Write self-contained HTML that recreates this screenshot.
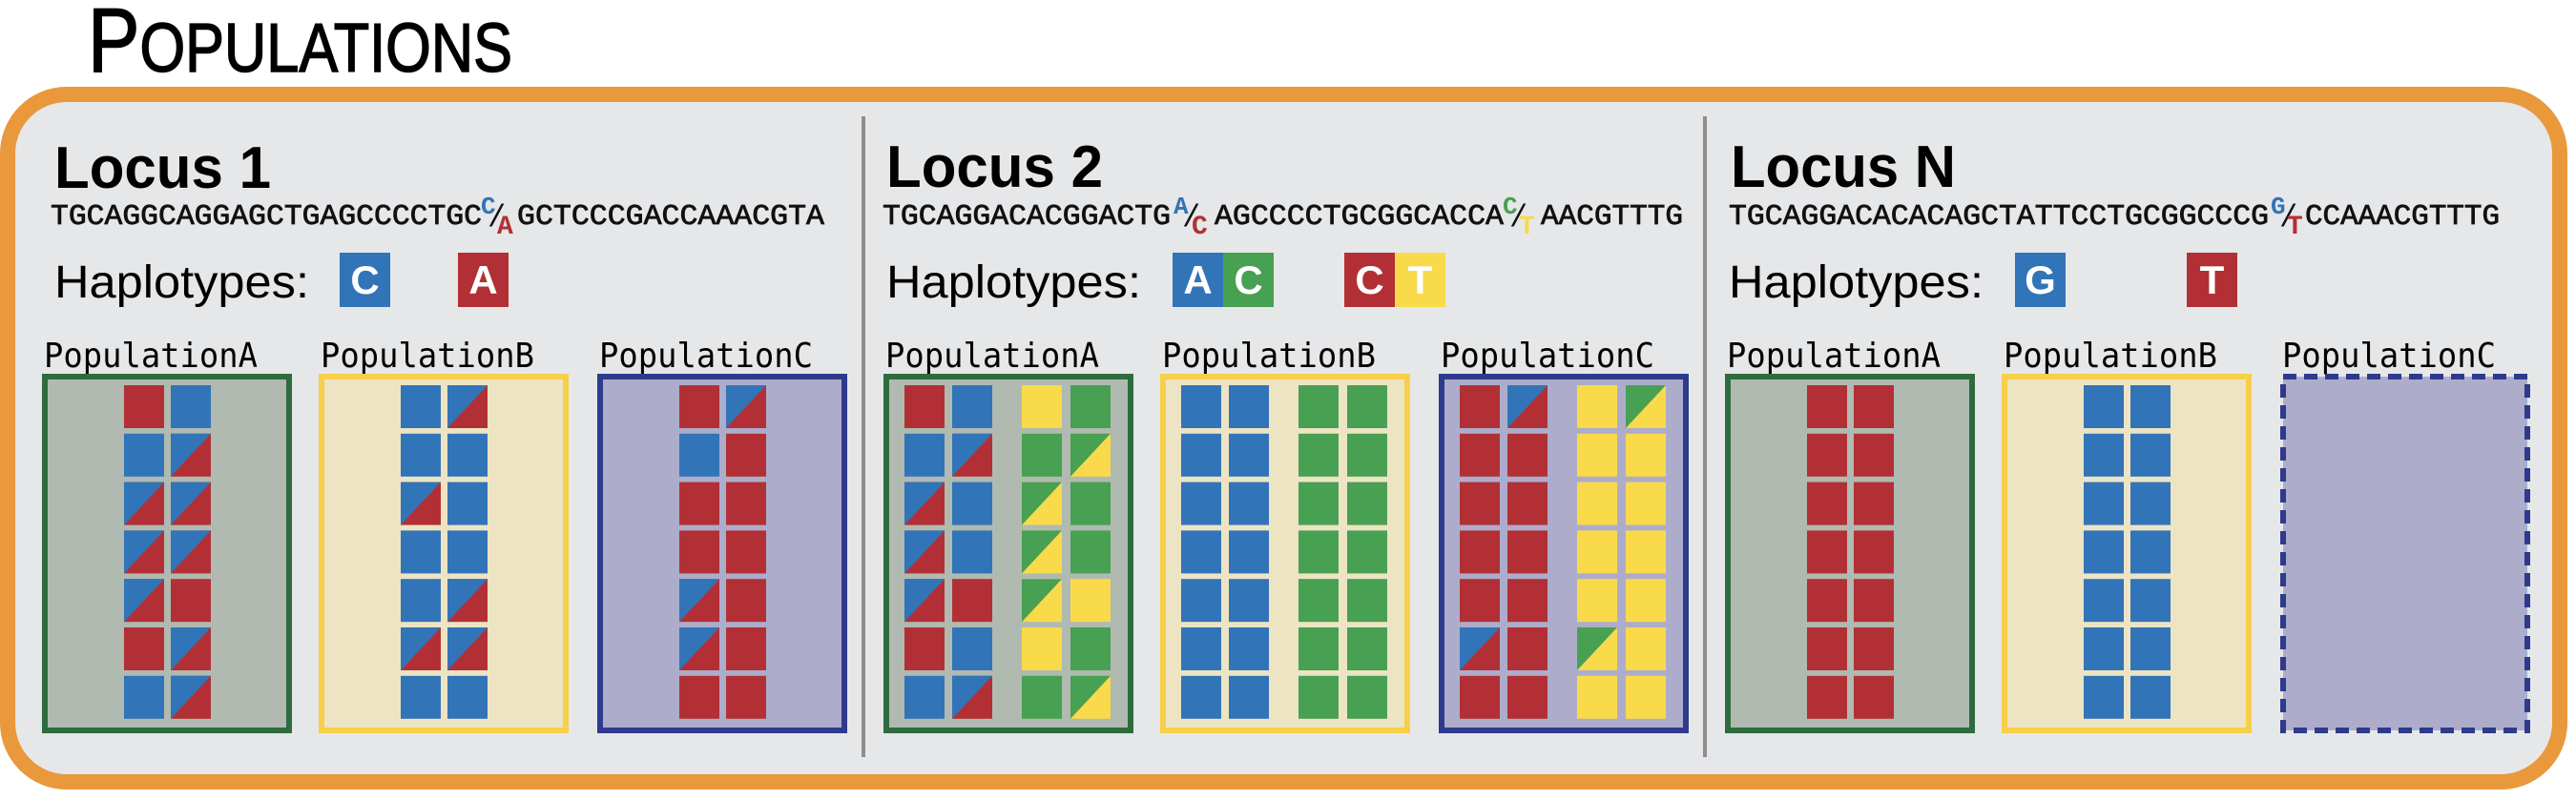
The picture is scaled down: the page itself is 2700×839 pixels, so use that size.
<!DOCTYPE html>
<html><head><meta charset="utf-8"><style>
html,body{margin:0;padding:0;background:#fff;}
svg{display:block;}
.mono{font-family:"Liberation Mono",monospace;}
.sans{font-family:"Liberation Sans",sans-serif;}
.pop{font-family:"DejaVu Sans Mono","Liberation Mono",monospace;}
</style></head><body>
<svg id="fig" width="2700" height="839" viewBox="0 0 2700 839" xmlns="http://www.w3.org/2000/svg">
<text x="92" y="75" class="sans" stroke="#000" stroke-width="1.5" textLength="445" lengthAdjust="spacingAndGlyphs"><tspan font-size="96">P</tspan><tspan font-size="72">OPULATIONS</tspan></text>
<rect x="8" y="99" width="2675" height="721" rx="62" ry="62" fill="#e6e7e9" stroke="#e9983c" stroke-width="16"/>
<line x1="905" y1="122" x2="905" y2="794" stroke="#8e8e8e" stroke-width="4"/>
<line x1="1787" y1="122" x2="1787" y2="794" stroke="#8e8e8e" stroke-width="4"/>

<!-- Locus 1 -->
<text x="57" y="197" class="sans" font-weight="bold" font-size="62" textLength="227" lengthAdjust="spacingAndGlyphs">Locus 1</text>
<g class="mono" font-size="31" fill="#111" stroke="#111" stroke-width="0.8">
<text x="53" y="235" textLength="452" lengthAdjust="spacingAndGlyphs">TGCAGGCAGGAGCTGAGCCCCTGC</text>
<text x="504" y="224" font-size="26" font-weight="bold" fill="#3274b8" stroke="none">C</text>
<text x="511" y="237" font-size="32" stroke="none">/</text>
<text x="521" y="245" font-size="28" font-weight="bold" fill="#b23035" stroke="none">A</text>
<text x="542" y="235" textLength="322" lengthAdjust="spacingAndGlyphs">GCTCCCGACCAAACGTA</text>
</g>
<text x="57" y="312" class="sans" font-size="48" textLength="267" lengthAdjust="spacingAndGlyphs">Haplotypes:</text>

<!-- Locus 2 -->
<text x="929" y="196" class="sans" font-weight="bold" font-size="62" textLength="227" lengthAdjust="spacingAndGlyphs">Locus 2</text>
<g class="mono" font-size="31" fill="#111" stroke="#111" stroke-width="0.8">
<text x="925" y="235" textLength="302" lengthAdjust="spacingAndGlyphs">TGCAGGACACGGACTG</text>
<text x="1230" y="224" font-size="26" font-weight="bold" fill="#3274b8" stroke="none">A</text>
<text x="1239" y="237" font-size="32" stroke="none">/</text>
<text x="1249" y="245" font-size="28" font-weight="bold" fill="#b23035" stroke="none">C</text>
<text x="1273" y="235" textLength="303" lengthAdjust="spacingAndGlyphs">AGCCCCTGCGGCACCA</text>
<text x="1575" y="224" font-size="26" font-weight="bold" fill="#48a052" stroke="none">C</text>
<text x="1582" y="237" font-size="32" stroke="none">/</text>
<text x="1592" y="245" font-size="28" font-weight="bold" fill="#f9da4a" stroke="none">T</text>
<text x="1615" y="235" textLength="149" lengthAdjust="spacingAndGlyphs">AACGTTTG</text>
</g>
<text x="929" y="312" class="sans" font-size="48" textLength="267" lengthAdjust="spacingAndGlyphs">Haplotypes:</text>

<!-- Locus N -->
<text x="1814" y="196" class="sans" font-weight="bold" font-size="62" textLength="236" lengthAdjust="spacingAndGlyphs">Locus N</text>
<g class="mono" font-size="31" fill="#111" stroke="#111" stroke-width="0.8">
<text x="1812" y="235" textLength="566" lengthAdjust="spacingAndGlyphs">TGCAGGACACACAGCTATTCCTGCGGCCCG</text>
<text x="2380" y="224" font-size="26" font-weight="bold" fill="#3274b8" stroke="none">G</text>
<text x="2389" y="237" font-size="32" stroke="none">/</text>
<text x="2397" y="245" font-size="28" font-weight="bold" fill="#b23035" stroke="none">T</text>
<text x="2416" y="235" textLength="204" lengthAdjust="spacingAndGlyphs">CCAAACGTTTG</text>
</g>
<text x="1812" y="312" class="sans" font-size="48" textLength="267" lengthAdjust="spacingAndGlyphs">Haplotypes:</text>

<g id="dyn"></g>
</svg>
<script>
// Genotype codes: R red, B blue, G green, Y yellow; two letters = split diagonally (first top-left, second bottom-right)
const locusNames = ["Locus 1", "Locus 2", "Locus N"];
const popNames = ["PopulationA", "PopulationB", "PopulationC"];
const haplotypes1 = [["C"], ["A"]];
const haplotypes2 = [["A","C"], ["C","T"]];
const haplotypesN = [["G"], ["T"]];
const haploColors1 = [["B"], ["R"]];
const haploColors2 = [["B","G"], ["R","Y"]];
const haploColorsN = [["B"], ["R"]];
const locus1PopA = [["R","B"],["B","BR"],["BR","BR"],["BR","BR"],["BR","R"],["R","BR"],["B","BR"]];
const locus1PopB = [["B","BR"],["B","B"],["BR","B"],["B","B"],["B","BR"],["BR","BR"],["B","B"]];
const locus1PopC = [["R","BR"],["B","R"],["R","R"],["R","R"],["BR","R"],["BR","R"],["R","R"]];
const locus2PopA = [["R","B","Y","G"],["B","BR","G","GY"],["BR","B","GY","G"],["BR","B","GY","G"],["BR","R","GY","Y"],["R","B","Y","G"],["B","BR","G","GY"]];
const locus2PopB = [["B","B","G","G"],["B","B","G","G"],["B","B","G","G"],["B","B","G","G"],["B","B","G","G"],["B","B","G","G"],["B","B","G","G"]];
const locus2PopC = [["R","BR","Y","GY"],["R","R","Y","Y"],["R","R","Y","Y"],["R","R","Y","Y"],["R","R","Y","Y"],["BR","R","GY","Y"],["R","R","Y","Y"]];
const locusNPopA = [["R","R"],["R","R"],["R","R"],["R","R"],["R","R"],["R","R"],["R","R"]];
const locusNPopB = [["B","B"],["B","B"],["B","B"],["B","B"],["B","B"],["B","B"],["B","B"]];
const locusNPopC = [];

const COL = {R:"#b23035", B:"#3274b8", G:"#48a052", Y:"#f9da4a"};
const NS = "http://www.w3.org/2000/svg";
const root = document.getElementById("dyn");
function mk(tag, attrs, parent){ const e=document.createElementNS(NS,tag); for(const k in attrs) e.setAttribute(k,attrs[k]); (parent||root).appendChild(e); return e; }

const locusX = [44, 926, 1808];
const popOffsets = [0, 290, 582];
const haploX = [[356,480],[1229,1409],[2112,2292]];
const haploData = [[haplotypes1,haploColors1],[haplotypes2,haploColors2],[haplotypesN,haploColorsN]];
const popData = [[locus1PopA,locus1PopB,locus1PopC],[locus2PopA,locus2PopB,locus2PopC],[locusNPopA,locusNPopB,locusNPopC]];
const popStroke = ["#2e6b3e","#f7cf48","#2e3a8c"];
const popFill = ["#b0bab0","#ede4c4","#adadcb"];
const cellW = 42, cellH = 45, rowPitch = 50.8, rowTop = 404;

function cellX(nCols, j){
  if(nCols === 2) return [86,135][j];
  return [22,72,145,196][j];
}

for(let L=0; L<3; L++){
  const [labels, colors] = haploData[L];
  labels.forEach((hap, h) => {
    const g = mk("g", {});
    
    
    hap.forEach((letter, k) => {
      const x = haploX[L][h] + k*53;
      mk("rect", {x:x, y:265, width:53, height:57, fill:COL[colors[h][k]]}, g);
      const t = mk("text", {x:x+26.5, y:308, "text-anchor":"middle", "font-size":42, "font-weight":"bold", fill:"#fff", "font-family":"Liberation Sans, sans-serif"}, g);
      t.textContent = letter;
    });
  });
  for(let p=0; p<3; p++){
    const bx = locusX[L] + popOffsets[p];
    const lab = mk("text", {x:bx+2, y:385, "font-size":36, class:"pop", textLength:224, lengthAdjust:"spacingAndGlyphs"});
    
    
    lab.textContent = popNames[p];
    const rows = popData[L][p];
    const box = mk("rect", {x:bx+3, y:395, width:256, height:371, fill:popFill[p], stroke:popStroke[p], "stroke-width":6});
    
    
    if(rows.length === 0){ box.setAttribute("stroke-dasharray","14 8"); }
    rows.forEach((row, i) => {
      row.forEach((code, j) => {
        const x = bx + cellX(row.length, j), y = rowTop + i*rowPitch;
        const g = mk("g", {});
        
        
        if(code.length === 1){
          mk("rect", {x:x, y:y, width:cellW, height:cellH, fill:COL[code]}, g);
        } else {
          mk("rect", {x:x, y:y, width:cellW, height:cellH, fill:COL[code[1]]}, g);
          mk("polygon", {points:`${x},${y} ${x+cellW},${y} ${x},${y+cellH}`, fill:COL[code[0]]}, g);
        }
      });
    });
  }
}
</script>
</body></html>
